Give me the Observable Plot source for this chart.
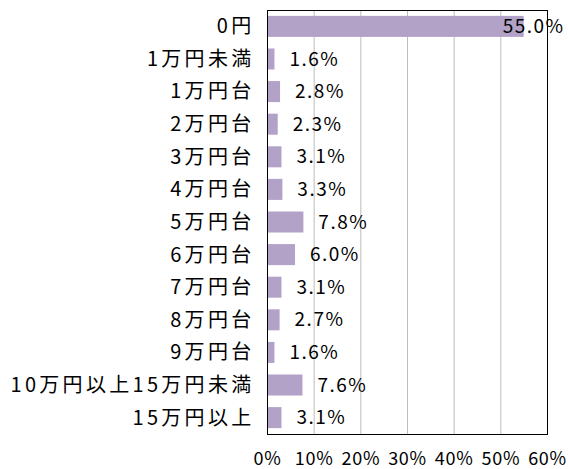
<!DOCTYPE html>
<html><head><meta charset="utf-8">
<script src="https://cdn.jsdelivr.net/npm/d3@7"></script>
<script src="https://cdn.jsdelivr.net/npm/@observablehq/plot@0.6"></script>
<style>
body{margin:0;background:#fff}
g[aria-label="y-axis tick label"] text{letter-spacing:3.3px}
g[aria-label="x-axis tick label"] text{letter-spacing:0.7px}
g[aria-label="text"] text{letter-spacing:1.5px}
</style>
</head><body><div id="chart"></div>
<script>
const categories = ["0円","1万円未満","1万円台","2万円台","3万円台","4万円台","5万円台","6万円台","7万円台","8万円台","9万円台","10万円以上15万円未満","15万円以上"];
const values = [55.0,1.6,2.8,2.3,3.1,3.3,7.8,6.0,3.1,2.7,1.6,7.6,3.1];
const xTicks = [0,10,20,30,40,50,60];
const data = categories.map((c,i)=>({cat:c, v:values[i]}));
const font = "'Noto Sans CJK JP', sans-serif";
const chart = Plot.plot({
  width: 568, height: 469,
  marginLeft: 267, marginRight: 21, marginTop: 10, marginBottom: 35,
  style: {fontFamily: font, fontSize: "18px", background: "#fff", color: "#000"},
  x: {domain: [0,60], ticks: xTicks, tickFormat: d => d + "%", label: null},
  y: {domain: categories, paddingInner: 0.355, paddingOuter: 0.18, round: false, label: null},
  marks: [
    Plot.gridX(xTicks, {stroke: "#bdbdbd", strokeOpacity: 1}),
    Plot.barX(data, {x: "v", y: "cat", fill: "#b3a2c7"}),
    Plot.frame({stroke: "#000", strokeWidth: 1}),
    Plot.text(data, {x: d => Math.min(d.v + 3.1, 50.4), y: "cat", text: d => d.v.toFixed(1) + "%", textAnchor: "start", fontSize: 19, fill: "#000"}),
    Plot.axisY({tickSize: 0, tickPadding: 13, fontSize: 20}),
    Plot.axisX(xTicks, {tickSize: 0, tickPadding: 18, fontSize: 18, tickFormat: d => d + "%"})
  ]
});
document.getElementById("chart").appendChild(chart);
</script></body></html>
